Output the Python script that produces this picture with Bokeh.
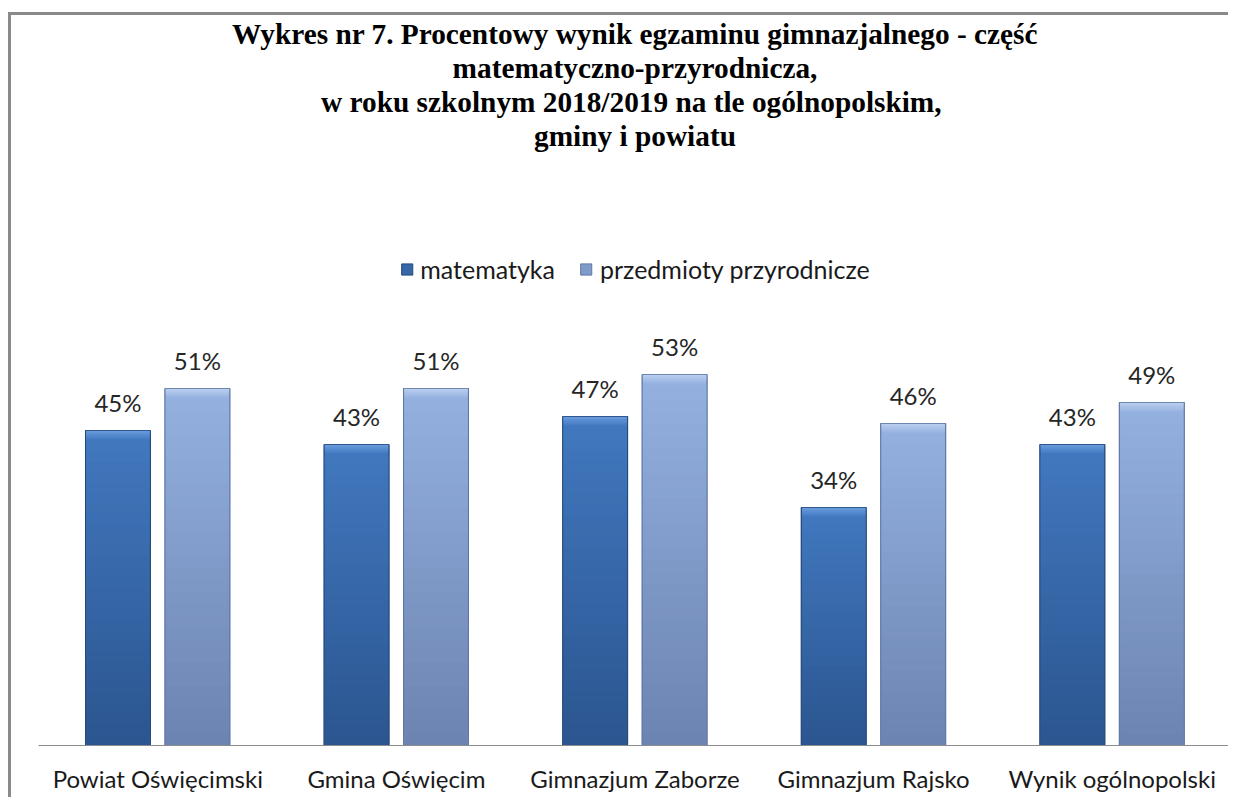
import numpy as np
from bokeh.plotting import figure
from bokeh.models import (ColumnDataSource, FactorRange, Range1d, Legend, LegendItem,
                          Title, LabelSet)
from bokeh.core.properties import value
from bokeh.transform import dodge
from bokeh.embed import file_html
from bokeh.resources import INLINE

# ---------------- data ----------------
categories = ["Powiat Oświęcimski", "Gmina Oświęcim", "Gimnazjum Zaborze",
              "Gimnazjum Rajsko", "Wynik ogólnopolski"]
matematyka = [45, 43, 47, 34, 43]
przyrodnicze = [51, 51, 53, 46, 49]
series_names = ["matematyka", "przedmioty przyrodnicze"]
title_lines = ["Wykres nr 7. Procentowy wynik egzaminu gimnazjalnego - część",
               "matematyczno-przyrodnicza,",
               "w roku szkolnym  2018/2019 na tle ogólnopolskim,",
               "gminy i powiatu"]

# ---------------- styling ----------------
W, H = 1220, 785
FRAME_TOP, FRAME_BOTTOM = 225, 730
PX_PER_UNIT = 7.0
Y_END = (FRAME_BOTTOM - FRAME_TOP) / PX_PER_UNIT
BAR_W = 0.272
OFFSETS = [-0.167, 0.166]
# (bottom colour, top colour, bevel colour, edge colour)
PALETTE = [
    ("#2b5690", "#4279c0", "#6d9fdf", "#24497c"),
    ("#6c84b2", "#95b2e0", "#bfd2f0", "#5f76a3"),
]
TEXT_FONT = "Lato"

p = figure(width=W, height=H, x_range=FactorRange(*categories),
           y_range=Range1d(0, Y_END), output_backend="svg", toolbar_location=None,
           min_border_left=27, min_border_right=0, min_border_top=FRAME_TOP,
           min_border_bottom=H - FRAME_BOTTOM,
           styles={"border-top": "3px solid #8a8a8a", "border-left": "3px solid #8a8a8a",
                   "margin-top": "12px", "margin-left": "8px"})
p.outline_line_color = None
p.background_fill_color = "white"
p.border_fill_color = "white"
p.xgrid.visible = False
p.ygrid.visible = False
p.yaxis.visible = False

ax = p.xaxis[0]
ax.axis_line_color = "#8c8c8c"
ax.axis_line_width = 1.2
ax.major_tick_line_color = None
ax.minor_tick_line_color = None
ax.major_label_text_font = TEXT_FONT
ax.major_label_text_font_size = "24px"
ax.major_label_text_color = "#1a1a1a"
ax.major_label_standoff = 12

# spacer between the title block and the plot area
p.add_layout(Title(text=" ", text_font_size="10px", standoff=76), "above")
# title lines: added from the frame outward
for line in reversed(title_lines):
    t = Title(text=line, align="center", text_font="Liberation Serif",
              text_font_style="bold", text_font_size="29.3px", text_color="#000000",
              standoff=0)
    p.add_layout(t, "above")


def lerp(c1, c2, t):
    a = np.array([int(c1[i:i + 2], 16) for i in (1, 3, 5)], float)
    b = np.array([int(c2[i:i + 2], 16) for i in (1, 3, 5)], float)
    c = a + (b - a) * t
    return "#%02x%02x%02x" % tuple(int(round(v)) for v in c)


legend_items = []
N = 30
bevel = 10 / PX_PER_UNIT
for s, (vals, name) in enumerate(zip([matematyka, przyrodnicze], series_names)):
    c_bot, c_top, c_bev, c_edge = PALETTE[s]
    xs = dodge("x", OFFSETS[s], range=p.x_range)
    base_src = ColumnDataSource(dict(x=categories, top=vals,
                                     lbl=["%d%%" % v for v in vals]))
    base = p.vbar(x=xs, top="top", bottom=0, width=BAR_W, source=base_src,
                  fill_color=lerp(c_bot, c_top, 0.5), line_color=c_edge, line_width=1)
    legend_items.append(LegendItem(label=name, renderers=[base]))
    # vertical gradient
    gx, gb, gt, gc = [], [], [], []
    for i in range(N):
        f = i / N
        for cat, v in zip(categories, vals):
            gx.append(cat)
            gb.append(v * f)
            gt.append(v - bevel)
            gc.append(lerp(c_bot, c_top, f))
    p.vbar(x=dodge("x", OFFSETS[s], range=p.x_range), top="top", bottom="bottom",
           width=BAR_W - 0.006,
           source=ColumnDataSource(dict(x=gx, bottom=gb, top=gt, color=gc)),
           fill_color="color", line_color=None)
    # bevel at top
    bx, bb, bt, bc = [], [], [], []
    M = 8
    for j in range(M):
        f = j / M
        for cat, v in zip(categories, vals):
            bx.append(cat)
            bb.append(v - bevel + bevel * f)
            bt.append(v)
            bc.append(lerp(c_top, c_bev, f))
    p.vbar(x=dodge("x", OFFSETS[s], range=p.x_range), top="top", bottom="bottom",
           width=BAR_W - 0.006,
           source=ColumnDataSource(dict(x=bx, bottom=bb, top=bt, color=bc)),
           fill_color="color", line_color=None)
    # outline
    p.vbar(x=xs, top="top", bottom=0, width=BAR_W, source=base_src,
           fill_alpha=0, line_color=c_edge, line_width=1, line_alpha=0.8)
    # value labels
    labels = LabelSet(x=dodge("x", OFFSETS[s], range=p.x_range), y="top", text="lbl",
                      source=base_src, y_offset=14, text_align="center",
                      text_baseline="bottom", text_font=value(TEXT_FONT),
                      text_font_size=value("24px"), text_color="#262626")
    p.add_layout(labels)

legend = Legend(items=legend_items, orientation="horizontal", location="top_center",
                label_text_font=TEXT_FONT, label_text_font_size="25px",
                label_text_color="#1a1a1a", glyph_width=14, glyph_height=14,
                label_standoff=7, spacing=24, border_line_color=None,
                background_fill_alpha=0, margin=14, padding=6)
p.add_layout(legend, "center")

open("out.html", "w").write(file_html(p, INLINE))
